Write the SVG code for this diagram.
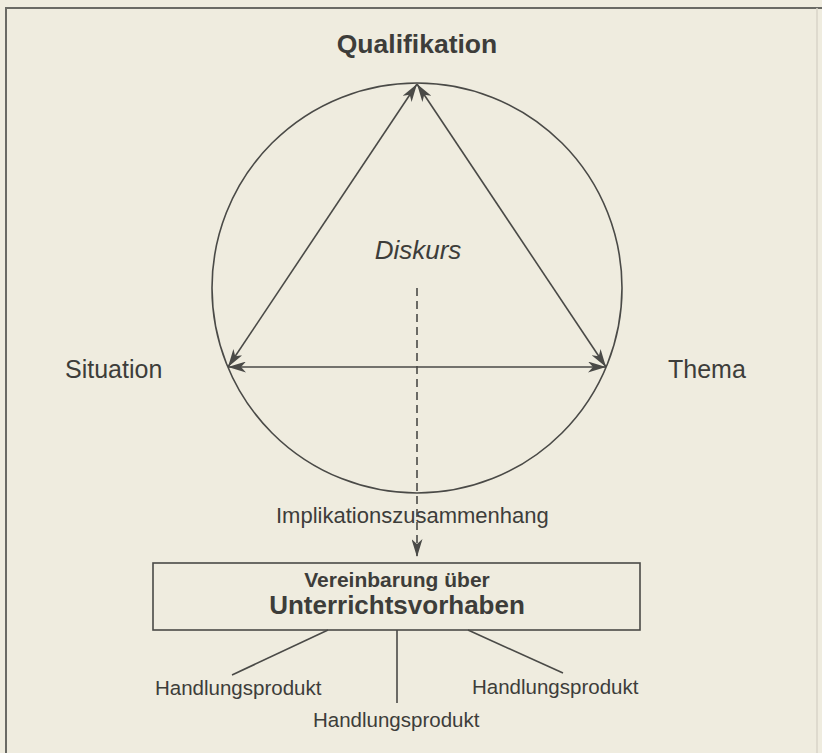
<svg xmlns="http://www.w3.org/2000/svg" width="822" height="753" viewBox="0 0 822 753">
<style>
  .bg { fill: #efecdf; }
  .frame { stroke: #6a6a65; stroke-width: 2; fill: none; }
  .ln { stroke: #4a4a47; stroke-width: 1.6; fill: none; }
  .txt { font-family: "Liberation Sans", Arial, Helvetica, sans-serif; fill: #3d3d3a; }
  .b { font-weight: bold; }
  .i { font-style: italic; }
</style>
<defs>
  <marker id="ah" viewBox="0 0 18 11" refX="18" refY="5.5" markerWidth="18" markerHeight="11" markerUnits="userSpaceOnUse" orient="auto-start-reverse">
    <path d="M0,0 L18,5.5 L0,11 L5,5.5 z" fill="#4a4a47"/>
  </marker>
</defs>
<rect class="bg" x="0" y="0" width="822" height="753"/>
<path class="frame" d="M6,753 L6,8 L822,8"/>
<line x1="817" y1="8" x2="817" y2="753" stroke="#d8d5c8" stroke-width="1.5"/>

<g id="circle">
  <circle class="ln" cx="417" cy="288" r="205"/>
</g>

<g id="qualifikation">
  <text class="txt b" x="417" y="53" font-size="26.5" text-anchor="middle">Qualifikation</text>
</g>
<g id="situation">
  <text class="txt" x="65" y="378" font-size="25" text-anchor="start">Situation</text>
</g>
<g id="thema">
  <text class="txt" x="668" y="378" font-size="25" text-anchor="start">Thema</text>
</g>
<g id="diskurs">
  <text class="txt i" x="418" y="259" font-size="26" text-anchor="middle">Diskurs</text>
</g>
<g id="implikation">
  <text class="txt" x="276" y="523" font-size="22" text-anchor="start">Implikationszusammenhang</text>
</g>

<g id="connectors">
  <line class="ln" x1="417" y1="84" x2="228" y2="367" marker-start="url(#ah)" marker-end="url(#ah)"/>
  <line class="ln" x1="417" y1="84" x2="606" y2="367" marker-start="url(#ah)" marker-end="url(#ah)"/>
  <line class="ln" x1="228" y1="367" x2="606" y2="367" marker-start="url(#ah)" marker-end="url(#ah)"/>
  <line class="ln" x1="417" y1="288" x2="417" y2="557" stroke-dasharray="8 5" marker-end="url(#ah)"/>
  <line class="ln" x1="328" y1="630" x2="232" y2="675"/>
  <line class="ln" x1="397" y1="630" x2="397" y2="703"/>
  <line class="ln" x1="468" y1="630" x2="563" y2="673"/>
</g>

<g id="vereinbarung">
  <rect class="ln" x="153" y="563" width="487" height="67"/>
  <text class="txt b" x="397" y="587" font-size="21" text-anchor="middle">Vereinbarung über</text>
  <text class="txt b" x="397" y="614" font-size="26" text-anchor="middle">Unterrichtsvorhaben</text>
</g>

<g id="produkt-links">
  <text class="txt" x="155" y="695" font-size="20.5">Handlungsprodukt</text>
</g>
<g id="produkt-mitte">
  <text class="txt" x="313" y="727" font-size="20.5">Handlungsprodukt</text>
</g>
<g id="produkt-rechts">
  <text class="txt" x="472" y="694" font-size="20.5">Handlungsprodukt</text>
</g>
</svg>
